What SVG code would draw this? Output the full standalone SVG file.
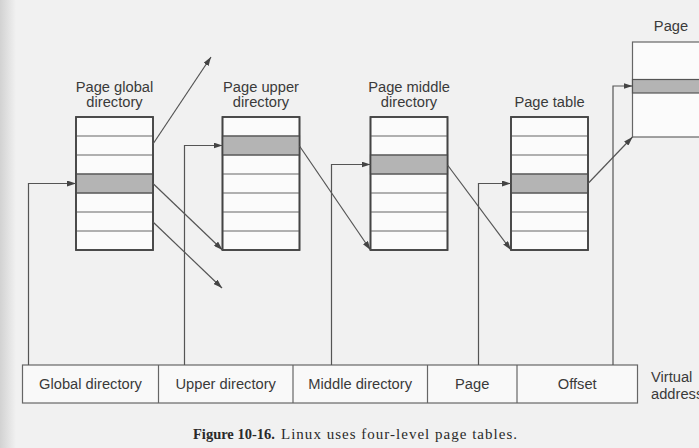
<svg xmlns="http://www.w3.org/2000/svg" width="699" height="448" viewBox="0 0 699 448">
  <defs>
    <style>
      .lbl { font-family: "Liberation Sans", Arial, sans-serif; font-size: 14.7px; fill: #3a3a3a; text-anchor: middle; }
      .lft { text-anchor: start; }
      .tbl { fill: #fbfbfb; stroke: #444; stroke-width: 1.6; }
      .row { stroke: #666; stroke-width: 1.2; fill: none; }
      .sel { fill: #b4b4b4; stroke: #555; stroke-width: 1.2; }
      .bar { fill: #f9f9f9; stroke: #666; stroke-width: 1.2; }
      .div { stroke: #666; stroke-width: 1.2; }
      .link { fill: none; stroke: #555; stroke-width: 1.2; marker-end: url(#arrow); }
      .cap { font-family: "Liberation Serif", "Times New Roman", serif; fill: #2a2a2a; }
    </style>
    <marker id="arrow" viewBox="0 0 9 6" refX="9" refY="3" markerWidth="9" markerHeight="6" markerUnits="userSpaceOnUse" orient="auto">
      <path d="M0,0 L9,3 L0,6 z" fill="#444"/>
    </marker>
    <linearGradient id="edge" x1="0" y1="0" x2="1" y2="0">
      <stop offset="0" stop-color="#d2d2d2"/>
      <stop offset="1" stop-color="#f1f1f1"/>
    </linearGradient>
    <!-- seven-row table used by the four directory levels -->
    <g id="rows">
      <line class="row" x1="0" y1="19" x2="77" y2="19"/>
      <line class="row" x1="0" y1="38" x2="77" y2="38"/>
      <line class="row" x1="0" y1="57" x2="77" y2="57"/>
      <line class="row" x1="0" y1="76" x2="77" y2="76"/>
      <line class="row" x1="0" y1="95" x2="77" y2="95"/>
      <line class="row" x1="0" y1="114" x2="77" y2="114"/>
    </g>
  </defs>

  <!-- paper -->
  <rect x="0" y="0" width="699" height="448" fill="#f1f1f1"/>
  <rect x="0" y="0" width="16" height="448" fill="url(#edge)"/>

  <!-- page global directory -->
  <g id="pgd">
    <text class="lbl" x="114.5" y="91.5">Page global</text>
    <text class="lbl" x="114.5" y="106.5">directory</text>
    <rect class="tbl" x="76" y="117" width="77" height="133"/>
    <rect class="sel" x="76" y="174" width="77" height="19"/>
    <use href="#rows" x="76" y="117"/>
    <rect x="76" y="117" width="77" height="133" fill="none" stroke="#444" stroke-width="1.6"/>
  </g>

  <!-- page upper directory -->
  <g id="pud">
    <text class="lbl" x="261" y="91.5">Page upper</text>
    <text class="lbl" x="261" y="106.5">directory</text>
    <rect class="tbl" x="222.5" y="117" width="77" height="133"/>
    <rect class="sel" x="222.5" y="136" width="77" height="19"/>
    <use href="#rows" x="222.5" y="117"/>
    <rect x="222.5" y="117" width="77" height="133" fill="none" stroke="#444" stroke-width="1.6"/>
  </g>

  <!-- page middle directory -->
  <g id="pmd">
    <text class="lbl" x="409" y="91.5">Page middle</text>
    <text class="lbl" x="409" y="106.5">directory</text>
    <rect class="tbl" x="370.5" y="117" width="77" height="133"/>
    <rect class="sel" x="370.5" y="155" width="77" height="19"/>
    <use href="#rows" x="370.5" y="117"/>
    <rect x="370.5" y="117" width="77" height="133" fill="none" stroke="#444" stroke-width="1.6"/>
  </g>

  <!-- page table -->
  <g id="pt">
    <text class="lbl" x="549.5" y="106.5">Page table</text>
    <rect class="tbl" x="511" y="117" width="77" height="133"/>
    <rect class="sel" x="511" y="174" width="77" height="19"/>
    <use href="#rows" x="511" y="117"/>
    <rect x="511" y="117" width="77" height="133" fill="none" stroke="#444" stroke-width="1.6"/>
  </g>

  <!-- page frame -->
  <g id="page">
    <text class="lbl" x="671" y="31">Page</text>
    <rect x="632.5" y="42" width="80" height="95" fill="#fbfbfb" stroke="#666" stroke-width="1.2"/>
    <rect class="sel" x="632.5" y="79.5" width="80" height="13.5"/>
  </g>

  <!-- virtual address fields -->
  <g id="vaddr">
    <rect class="bar" x="22.5" y="365" width="615" height="38"/>
    <line class="div" x1="158.5" y1="365" x2="158.5" y2="403"/>
    <line class="div" x1="293" y1="365" x2="293" y2="403"/>
    <line class="div" x1="427.5" y1="365" x2="427.5" y2="403"/>
    <line class="div" x1="517" y1="365" x2="517" y2="403"/>
    <text class="lbl" x="90.5" y="389">Global directory</text>
    <text class="lbl" x="225.7" y="389">Upper directory</text>
    <text class="lbl" x="360.2" y="389">Middle directory</text>
    <text class="lbl" x="472.2" y="389">Page</text>
    <text class="lbl" x="577.2" y="389">Offset</text>
    <text class="lbl lft" x="651" y="382">Virtual</text>
    <text class="lbl lft" x="651" y="399">address</text>
  </g>

  <!-- connectors -->
  <g id="links">
    <path class="link" d="M28.5,365 V183.5 H76"/>
    <path class="link" d="M184.5,365 V145.5 H222.5"/>
    <path class="link" d="M331.5,365 V164.5 H370.5"/>
    <path class="link" d="M478.5,365 V183.5 H511"/>
    <path class="link" d="M613,365 V86 H632.5"/>
    <path class="link" d="M153,144 L211,57"/>
    <path class="link" d="M153,183.5 L222.5,250"/>
    <path class="link" d="M153,222 L222,288"/>
    <path class="link" d="M299.5,146 L370.5,250"/>
    <path class="link" d="M447.5,165 L511,250"/>
    <path class="link" d="M588,183.5 L632.5,137"/>
  </g>

  <!-- caption -->
  <g id="caption">
    <text class="cap" x="193" y="438.5" font-size="14.5" font-weight="bold">Figure 10-16.</text>
    <text class="cap" x="281" y="438.5" font-size="15" textLength="236" lengthAdjust="spacing">Linux uses four-level page tables.</text>
  </g>
</svg>
